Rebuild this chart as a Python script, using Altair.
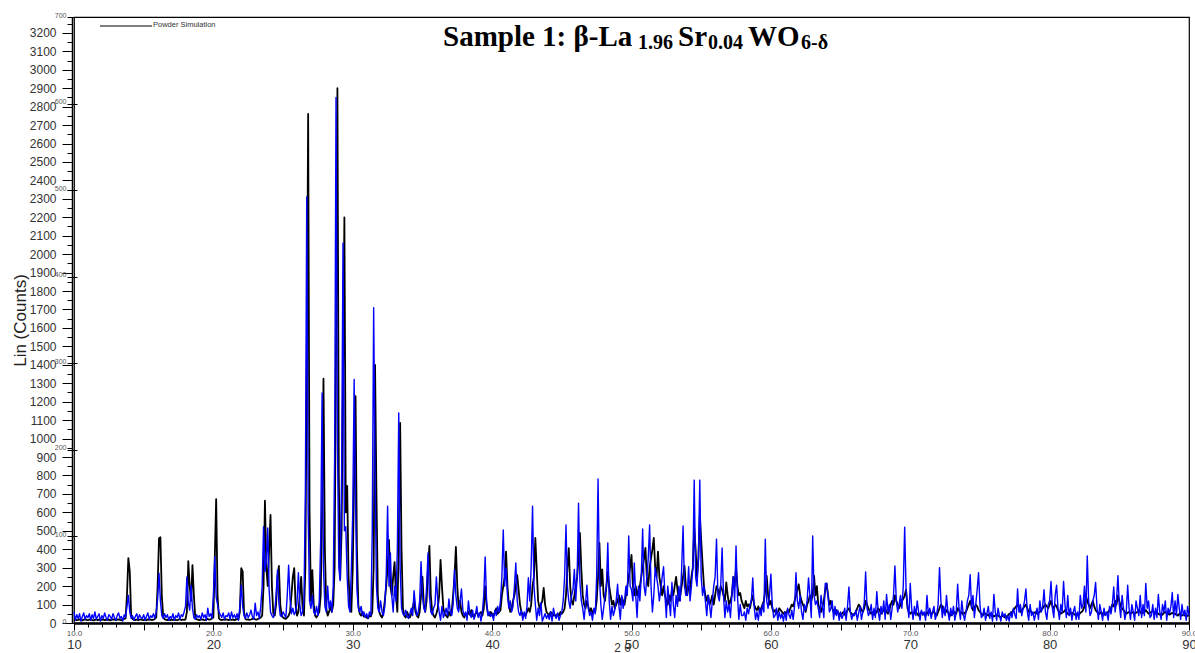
import altair as alt
import pandas as pd

# ---- data: intensities on a 0.1 deg 2-theta grid (10.0 .. 90.0)
X_START = 10.0
X_STEP = 0.1

measured = [
    60, 15, 45, 25, 50, 10, 35, 55, 20, 40,          # 10
    30, 50, 15, 45, 25, 60, 20, 35, 50, 10,          # 11
    40, 25, 55, 30, 15, 45, 35, 20, 50, 30,          # 12
    15, 40, 55, 25, 35, 10, 45, 30, 90, 150,         # 13
    60, 25, 40, 15, 35, 50, 20, 45, 30, 25,          # 14
    45, 15, 35, 55, 20, 40, 30, 50, 25, 60,          # 15
    130, 270, 120, 40, 25, 50, 30, 45, 15, 35,       # 16
    25, 50, 15, 40, 30, 55, 20, 45, 35, 60,          # 17
    90, 250, 110, 70, 205, 80, 30, 20, 45, 30,       # 18
    40, 20, 55, 30, 45, 15, 80, 35, 50, 25,          # 19
    150, 358, 140, 100, 60, 45, 30, 55, 20, 40,      # 20
    35, 55, 20, 60, 30, 45, 25, 50, 15, 90,          # 21
    205, 90, 40, 25, 55, 30, 45, 70, 35, 20,         # 22
    108, 40, 60, 25, 90, 200, 522, 280, 330, 515,    # 23
    180, 60, 40, 30, 60, 150, 287, 110, 40, 35,      # 24
    60, 45, 30, 150, 314, 130, 50, 80, 45, 60,       # 25
    110, 273, 100, 40, 60, 120, 700, 2310, 600, 120, # 26
    80, 150, 60, 45, 90, 40, 120, 450, 1247, 300,    # 27
    90, 60, 200, 80, 120, 60, 200, 900, 2850, 1000,  # 28
    300, 230, 800, 2060, 500, 522, 250, 90, 60, 300, # 29
    600, 1320, 650, 180, 80, 60, 90, 40, 60, 30,     # 30
    50, 25, 60, 40, 500, 1710, 800, 200, 80, 60,     # 31
    120, 60, 40, 90, 250, 634, 200, 380, 150, 60,    # 32
    200, 120, 400, 1139, 300, 80, 50, 40, 70, 35,    # 33
    25, 50, 80, 40, 175, 90, 40, 60, 120, 333,       # 34
    150, 80, 60, 200, 380, 150, 60, 45, 80, 100,     # 35
    250, 120, 60, 15, 90, 30, 50, 80, 40, 130,       # 36
    60, 40, 100, 287, 150, 80, 60, 120, 184, 70,     # 37
    40, 60, 15, 120, 50, 30, 70, 20, 45, 90,         # 38
    30, 55, 10, 60, 150, 358, 120, 40, 60, 35,       # 39
    50, 15, 70, 40, 90, 60, 120, 250, 504, 200,      # 40
    300, 150, 80, 120, 60, 90, 200, 325, 120, 60,    # 41
    40, 70, 15, 60, 25, 90, 245, 120, 300, 634,      # 42
    200, 100, 15, 80, 40, 110, 10, 30, 50, 25,       # 43
    45, 20, 60, 10, 80, 40, 25, 55, 15, 40,          # 44
    60, 120, 250, 531, 200, 120, 80, 150, 180, 291,  # 45
    120, 250, 650, 220, 120, 80, 20, 100, 205, 80,   # 46
    40, 60, 15, 80, 50, 250, 781, 250, 100, 20,      # 47
    80, 150, 200, 434, 120, 20, 90, 40, 70, 120,     # 48
    210, 90, 20, 150, 80, 120, 200, 150, 472, 200,   # 49
    180, 120, 325, 150, 30, 200, 120, 250, 510, 200, # 50
    150, 250, 350, 531, 200, 60, 150, 300, 250, 200, # 51
    120, 180, 250, 305, 150, 30, 200, 120, 40, 220,  # 52
    100, 30, 150, 90, 200, 120, 300, 526, 200, 150,  # 53
    150, 305, 120, 200, 300, 775, 250, 200, 350, 775,# 54
    250, 150, 200, 120, 40, 150, 100, 30, 120, 200,  # 55
    250, 455, 150, 120, 200, 407, 150, 30, 120, 60,  # 56
    100, 30, 150, 250, 120, 418, 150, 20, 100, 40,   # 57
    40, 60, 15, 80, 50, 100, 120, 244, 90, 20,       # 58
    60, 15, 80, 40, 100, 60, 455, 120, 80, 150,      # 59
    265, 100, 30, 40, 80, 15, 60, 25, 50, 10,        # 60
    60, 15, 80, 45, 25, 70, 20, 90, 273, 120,        # 61
    80, 150, 60, 20, 100, 70, 120, 244, 150, 30,     # 62
    472, 150, 100, 120, 80, 30, 150, 90, 30, 215,    # 63
    215, 150, 60, 80, 120, 20, 90, 40, 70, 15,       # 64
    60, 25, 45, 80, 15, 90, 195, 60, 20, 50,         # 65
    40, 70, 15, 55, 90, 20, 60, 110, 277, 80,        # 66
    40, 60, 100, 20, 80, 30, 170, 60, 15, 90,        # 67
    50, 120, 20, 155, 60, 100, 20, 80, 150, 309,     # 68
    120, 60, 100, 150, 80, 200, 520, 180, 100, 30,   # 69
    215, 80, 20, 90, 40, 120, 60, 15, 70, 45,        # 70
    60, 15, 150, 40, 80, 25, 60, 90, 20, 50,         # 71
    100, 300, 120, 30, 90, 40, 150, 60, 15, 80,      # 72
    40, 90, 15, 60, 210, 80, 20, 120, 50, 15,        # 73
    60, 120, 150, 262, 80, 150, 30, 100, 180, 273,   # 74
    100, 30, 40, 80, 15, 50, 90, 25, 60, 10,         # 75
    155, 60, 15, 80, 40, 10, 60, 35, 50, 15,         # 76
    40, 10, 60, 30, 80, 45, 25, 185, 60, 100,        # 77
    40, 80, 120, 185, 60, 15, 100, 40, 60, 15,       # 78
    50, 80, 20, 120, 60, 90, 180, 60, 20, 100,       # 79
    120, 225, 80, 30, 150, 205, 80, 20, 100, 60,     # 80
    225, 100, 30, 150, 40, 80, 15, 60, 90, 20,       # 81
    60, 20, 150, 80, 100, 200, 60, 363, 120, 40,     # 82
    60, 120, 150, 220, 80, 20, 100, 60, 15, 80,      # 83
    40, 60, 15, 90, 50, 100, 195, 60, 120, 257,      # 84
    100, 30, 150, 80, 20, 60, 205, 80, 20, 100,      # 85
    60, 15, 120, 80, 40, 150, 30, 100, 40, 215,      # 86
    80, 120, 30, 40, 100, 20, 80, 30, 155, 60,       # 87
    20, 100, 60, 120, 15, 80, 50, 90, 165, 30,       # 88
    120, 40, 155, 80, 20, 100, 40, 70, 15, 90,       # 89
    40,                                              # 90.0
]

simulation = [
    20, 18, 15, 17, 20, 16, 14, 18, 20, 17,          # 10
    15, 18, 20, 16, 14, 17, 19, 15, 18, 16,          # 11
    17, 20, 15, 18, 16, 19, 14, 17, 20, 18,          # 12
    16, 18, 20, 17, 15, 19, 22, 25, 150, 352,        # 13
    280, 40, 22, 18, 16, 19, 15, 18, 20, 17,         # 14
    16, 18, 15, 20, 17, 19, 16, 18, 22, 30,          # 15
    200, 460, 465, 150, 35, 20, 18, 16, 19, 15,      # 16
    18, 16, 20, 17, 15, 18, 21, 16, 19, 17,          # 17
    20, 60, 336, 200, 120, 314, 150, 30, 20, 18,     # 18
    16, 18, 20, 17, 15, 19, 22, 18, 20, 25,          # 19
    30, 350, 672, 150, 25, 18, 16, 19, 17, 20,       # 20
    18, 16, 19, 17, 20, 15, 18, 22, 20, 60,          # 21
    298, 280, 60, 22, 18, 20, 17, 19, 22, 25,        # 22
    20, 18, 22, 25, 30, 40, 200, 663, 300, 200,      # 23
    400, 586, 200, 50, 40, 100, 250, 309, 100, 40,   # 24
    30, 25, 22, 30, 40, 60, 150, 250, 298, 100,      # 25
    40, 60, 150, 250, 80, 40, 300, 1400, 2760, 600,  # 26
    120, 287, 100, 40, 30, 45, 60, 150, 600, 1325,   # 27
    400, 80, 40, 60, 90, 60, 100, 300, 1500, 2900,   # 28
    800, 240, 500, 1300, 2200, 600, 743, 250, 90, 60,# 29
    300, 800, 1230, 400, 100, 50, 40, 60, 35, 40,    # 30
    30, 25, 40, 35, 60, 300, 1400, 700, 150, 60,     # 31
    40, 30, 60, 120, 200, 300, 450, 200, 150, 250,   # 32
    330, 150, 60, 400, 1085, 400, 80, 40, 30, 60,    # 33
    40, 30, 50, 80, 120, 60, 40, 30, 60, 150,        # 34
    250, 100, 60, 120, 300, 418, 150, 60, 40, 30,    # 35
    50, 80, 150, 342, 200, 80, 50, 40, 30, 60,       # 36
    40, 60, 150, 250, 412, 200, 80, 120, 60, 40,     # 37
    30, 50, 40, 60, 45, 70, 40, 30, 50, 60,          # 38
    40, 50, 60, 40, 80, 200, 100, 50, 40, 60,        # 39
    50, 40, 60, 80, 50, 60, 70, 150, 200, 250,       # 40
    387, 200, 100, 60, 80, 120, 150, 200, 260, 180,  # 41
    100, 60, 40, 50, 40, 60, 80, 60, 100, 200,       # 42
    250, 461, 290, 120, 80, 100, 120, 190, 100, 60,  # 43
    50, 40, 60, 50, 40, 45, 35, 50, 40, 60,          # 44
    50, 60, 80, 150, 300, 406, 200, 120, 100, 150,   # 45
    200, 250, 350, 488, 292, 150, 100, 80, 120, 90,  # 46
    60, 80, 50, 70, 60, 120, 250, 434, 200, 290,     # 47
    150, 120, 200, 280, 200, 150, 100, 120, 80, 100, # 48
    120, 150, 100, 140, 120, 100, 150, 200, 250, 300,# 49
    369, 200, 150, 200, 150, 180, 200, 250, 300, 350,# 50
    407, 250, 200, 300, 350, 400, 461, 300, 250, 387,# 51
    250, 200, 150, 200, 150, 120, 100, 150, 120, 180,# 52
    150, 200, 250, 180, 120, 150, 200, 250, 310, 200,# 53
    150, 200, 180, 250, 300, 515, 400, 250, 350, 586,# 54
    450, 320, 200, 150, 120, 150, 100, 120, 150, 100,# 55
    150, 200, 180, 150, 200, 180, 150, 120, 220, 150,# 56
    100, 120, 150, 250, 200, 300, 200, 150, 163, 120,# 57
    100, 80, 120, 90, 100, 80, 120, 150, 100, 80,    # 58
    70, 90, 60, 80, 100, 120, 180, 255, 150, 100,    # 59
    120, 80, 60, 70, 50, 60, 80, 70, 60, 50,         # 60
    60, 50, 70, 60, 80, 100, 90, 120, 150, 180,      # 61
    210, 150, 120, 100, 80, 60, 100, 120, 150, 120,  # 62
    150, 255, 150, 200, 100, 80, 60, 90, 120, 180,   # 63
    215, 150, 100, 120, 80, 60, 50, 70, 60, 50,      # 64
    40, 50, 60, 45, 55, 70, 80, 60, 50, 40,          # 65
    50, 60, 80, 100, 90, 70, 60, 80, 120, 100,       # 66
    80, 60, 50, 60, 45, 50, 60, 80, 70, 50,          # 67
    60, 70, 80, 60, 50, 70, 100, 120, 100, 150,      # 68
    120, 100, 80, 100, 120, 130, 150, 180, 80, 60,   # 69
    50, 60, 45, 55, 60, 50, 40, 50, 60, 45,          # 70
    50, 40, 60, 50, 70, 45, 55, 60, 50, 40,          # 71
    60, 80, 100, 90, 60, 50, 70, 60, 50, 40,         # 72
    45, 55, 60, 50, 80, 70, 50, 60, 45, 55,          # 73
    60, 80, 100, 120, 90, 70, 80, 100, 90, 70,       # 74
    60, 50, 40, 55, 50, 45, 40, 50, 45, 40,          # 75
    35, 40, 45, 40, 35, 30, 40, 35, 30, 35,          # 76
    40, 50, 45, 60, 70, 80, 90, 100, 80, 60,         # 77
    70, 80, 90, 100, 80, 60, 70, 60, 50, 55,         # 78
    60, 50, 55, 60, 70, 80, 90, 100, 90, 80,         # 79
    100, 120, 90, 80, 100, 90, 70, 60, 50, 55,       # 80
    60, 70, 60, 50, 45, 50, 55, 50, 45, 50,          # 81
    50, 45, 55, 60, 70, 90, 150, 120, 100, 80,       # 82
    100, 120, 90, 70, 60, 55, 50, 60, 50, 45,        # 83
    50, 55, 60, 70, 80, 100, 90, 120, 100, 150,      # 84
    120, 90, 80, 70, 60, 50, 55, 60, 50, 55,         # 85
    60, 50, 55, 60, 70, 60, 50, 55, 60, 70,          # 86
    60, 50, 55, 60, 65, 60, 50, 55, 50, 45,          # 87
    50, 45, 55, 60, 55, 50, 45, 50, 55, 50,          # 88
    50, 45, 40, 50, 45, 40, 45, 40, 35, 40,          # 89
    40,                                              # 90.0
]

assert len(measured) == len(simulation) == 801

outer_y_ticks = list(range(0, 3201, 100))
outer_y_minor = list(range(50, 3251, 100))
inner_y_ticks = [0, 100, 200, 300, 400, 500, 600, 700]
x_major = [10, 20, 30, 40, 50, 60, 70, 80, 90]
x_fives = list(range(10, 91, 5))
x_units = list(range(10, 91))

two_theta = [round(X_START + i * X_STEP, 1) for i in range(len(measured))]
df = pd.DataFrame({"two_theta": two_theta, "measured": measured, "simulation": simulation})
df_inner = pd.DataFrame({"ix": x_major[:8], "iy": inner_y_ticks})
one = pd.DataFrame({"k": [0]})

W, H = 1115, 606
xs = alt.Scale(domain=[10, 90], nice=False, zero=False)
ys = alt.Scale(domain=[0, 3286], nice=False)
SANS = "Liberation Sans"
SERIF = "Liberation Serif"

black_line = alt.Chart(df).mark_line(color="black", strokeWidth=1.8, strokeJoin="round").encode(
    x=alt.X("two_theta:Q", scale=xs, axis=alt.Axis(
        orient="bottom", values=x_units, labels=False, tickSize=4, tickColor="black",
        tickWidth=1, domainWidth=2.5, domainColor="black", title=None, grid=False)),
    y=alt.Y("simulation:Q", scale=ys, axis=alt.Axis(
        orient="left", values=outer_y_minor, labels=False, tickSize=5, tickColor="black",
        domain=False, offset=2, title=None, grid=False)),
)

blue_line = alt.Chart(df).mark_line(color="#0000FF", strokeWidth=1.4, strokeJoin="round").encode(
    x=alt.X("two_theta:Q", scale=xs, axis=alt.Axis(
        orient="bottom", values=x_fives, labelExpr="datum.value % 10 == 0 ? datum.label : ''",
        tickSize=7, tickColor="black", domain=False, labelFont=SANS, labelFontSize=13,
        labelColor="#333333", labelPadding=8, labelFlush=False, labelOverlap=False,
        title="2 θ", titleFont=SANS, titleFontSize=12, titleFontWeight="normal",
        titleColor="#333333", titleX=548, titleY=28, titleBaseline="alphabetic", grid=False)),
    y=alt.Y("measured:Q", scale=ys, axis=alt.Axis(
        orient="left", values=outer_y_ticks, format="d", tickSize=10, tickColor="black", offset=2,
        domainColor="black", domainWidth=1.5, labelFont=SANS, labelFontSize=12,
        labelColor="#333333", labelPadding=6, labelOverlap=False,
        title="Lin (Counts)", titleFont=SANS, titleFontSize=17, titleFontWeight="normal",
        titleColor="#222222", titlePadding=0, grid=False)),
)

inner_axes = alt.Chart(df_inner).mark_point(opacity=0).encode(
    x=alt.X("ix:Q", scale=xs, axis=alt.Axis(
        orient="bottom", values=x_major, format=".1f", tickSize=6, tickColor="black",
        domain=False, labelFont=SANS, labelFontSize=8, labelColor="#555555",
        labelPadding=0, labelFlush=False, labelOverlap=False, title=None, grid=False)),
    y=alt.Y("iy:Q", scale=alt.Scale(domain=[0, 700], nice=False), axis=alt.Axis(
        orient="left", values=inner_y_ticks, format="d", tickSize=10, tickColor="black", offset=-3,
        domain=False, labelFont=SANS, labelFontSize=7, labelColor="#555555",
        labelPadding=1, labelBaseline="alphabetic", labelOverlap=False, title=None, grid=False)),
)

legend_rule = alt.Chart(one).mark_rule(color="black", strokeWidth=1).encode(
    x=alt.value(26), x2=alt.value(78), y=alt.value(9))
legend_text = alt.Chart(one).mark_text(
    text="Powder Simulation", font=SANS, fontSize=7.5, color="#333333",
    align="left", baseline="middle").encode(x=alt.value(79), y=alt.value(8))


def seg(s, x, y, size):
    return alt.Chart(one).mark_text(
        text=s, font=SERIF, fontSize=size, fontWeight="bold", color="black",
        align="left", baseline="alphabetic").encode(x=alt.value(x), y=alt.value(y))


MAIN, SUB = 29, 20
title_parts = [
    seg("Sample 1:  β-La", 369, 29, MAIN),
    seg("1.96", 564, 32, SUB),
    seg("Sr", 604, 29, MAIN),
    seg("0.04", 634, 32, SUB),
    seg("WO", 674, 29, MAIN),
    seg("6-δ", 727, 32, SUB),
]

chart = alt.layer(
    black_line, blue_line, inner_axes, legend_rule, legend_text, *title_parts
).resolve_scale(y="independent").resolve_axis(x="independent", y="independent").properties(
    width=W, height=H,
    autosize=alt.AutoSizeParams(type="none"),
    padding={"left": 74, "top": 17, "right": 6, "bottom": 30},
).configure_view(stroke="black", strokeWidth=1.2).configure_axis(grid=False)

chart.save("out.html", embed_options={"renderer": "svg", "actions": False})
